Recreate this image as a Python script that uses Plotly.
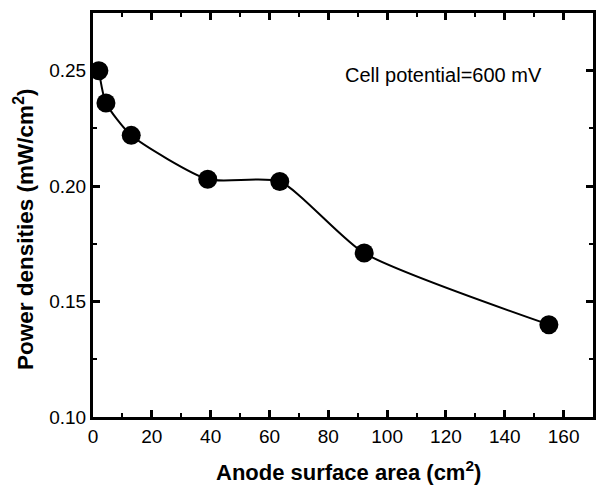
import plotly.graph_objects as go

# Data
anode_area = [2.0, 4.4, 13.0, 39.0, 63.5, 92.2, 155.0]          # cm^2
power_density = [0.250, 0.236, 0.222, 0.203, 0.202, 0.171, 0.140]  # mW/cm^2

x_ticks = [0, 20, 40, 60, 80, 100, 120, 140, 160]
y_ticks = [0.10, 0.15, 0.20, 0.25]
y_tick_labels = ["0.10", "0.15", "0.20", "0.25"]

x_title = "<b>Anode surface area (cm<sup>2</sup>)</b>"
y_title = "<b>Power densities (mW/cm<sup>2</sup>)</b>"
note = "Cell potential=600 mV"

FONT = "Liberation Sans, Arial, sans-serif"

fig = go.Figure()
fig.add_trace(go.Scatter(
    x=anode_area, y=power_density, mode="lines",
    line=dict(color="black", width=2, shape="spline", smoothing=0.6),
    showlegend=False, hoverinfo="skip"))
fig.add_trace(go.Scatter(
    x=anode_area, y=power_density, mode="markers",
    marker=dict(color="black", size=19, symbol="circle"),
    showlegend=False))

axis_common = dict(
    showgrid=False, zeroline=False,
    showline=True, linecolor="black", linewidth=3,
    mirror="ticks", ticks="inside", ticklen=7, tickwidth=2.5, tickcolor="black",
    tickfont=dict(family=FONT, size=19, color="black"),
)

fig.update_xaxes(range=[0, 170], tickvals=x_ticks,
                 minor=dict(ticks="inside", dtick=10, ticklen=4, tickwidth=2, tickcolor="black"),
                 **axis_common)
fig.update_yaxes(range=[0.10, 0.275], tickvals=y_ticks, ticktext=y_tick_labels,
                 minor=dict(ticks="inside", dtick=0.025, tick0=0.1, ticklen=4, tickwidth=2, tickcolor="black"),
                 **axis_common)

fig.add_annotation(x=119, y=0.248, xref="x", yref="y", text=note, showarrow=False,
                   font=dict(family=FONT, size=20, color="black"))
fig.add_annotation(x=0.511, y=-0.134, xref="paper", yref="paper", text=x_title, showarrow=False,
                   font=dict(family=FONT, size=22, color="black"), yanchor="middle")
fig.add_annotation(x=-0.17, y=0.463, xref="paper", yref="paper", text=y_title, showarrow=False,
                   textangle=-90, font=dict(family=FONT, size=22.5, color="black"))

fig.update_layout(
    width=596, height=485,
    margin=dict(l=93, r=0, t=13, b=68),
    plot_bgcolor="white", paper_bgcolor="white",
    font=dict(family=FONT, color="black"),
)

fig.write_html("out.html", config={"displayModeBar": False},
               post_script="document.body.style.margin='0';document.body.style.overflow='hidden';")
